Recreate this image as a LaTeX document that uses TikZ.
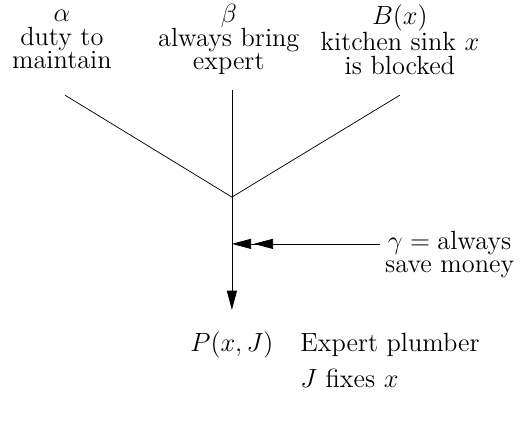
\documentclass[tikz,border=0pt]{standalone}
\usepackage{amsmath}
\usepackage{amssymb}
\usetikzlibrary{arrows.meta, positioning}

\begin{document}
\begin{tikzpicture}[>={Triangle[length=10.5pt,width=5.5pt]},
    every node/.style={font=\fontsize{14.4}{12.8}\selectfont, inner sep=2pt}]
            \useasboundingbox (0,0) rectangle (10.02,-8.1);

            \coordinate (La) at (1.25,-1.83);
            \coordinate (Lb) at (4.46,-1.73);
            \coordinate (Lc) at (7.69,-1.83);
            \coordinate (J) at (4.46,-3.79);
            \coordinate (T) at (4.46,-5.96);
            \coordinate (G) at (4.46,-4.69);
            \coordinate (Gs) at (7.31,-4.69);

            \node[align=center] (alpha) at (1.19,-0.76) {$\alpha$\\duty to\\maintain};
            \node[align=center] (beta) at (4.40,-0.76) {$\beta$\\always bring\\expert};
            \node[align=center] (sink) at (7.69,-0.76) {$B(x)$\\kitchen sink $x$\\is blocked};

            \draw (La) -- (J);
            \draw (Lc) -- (J);
            \draw (Lb) -- (J);
            \draw[->] (J) -- (T);

            % twee pijlpunten achter elkaar
            \draw[-{>[sep=1.5pt]>}] (Gs) -- (G);
            \node[anchor=west, align=center] (gamma) at (7.33,-4.90) {$\gamma = {}$always\\save money};

            \node (P) at (4.46,-6.63) {$P(x,J)$};
            \node[anchor=west] (plumber) at (5.70,-6.63) {Expert plumber};
            \node[anchor=west] (fixes) at (5.70,-7.27) {$J$ fixes $x$};
        \end{tikzpicture}
\end{document}
